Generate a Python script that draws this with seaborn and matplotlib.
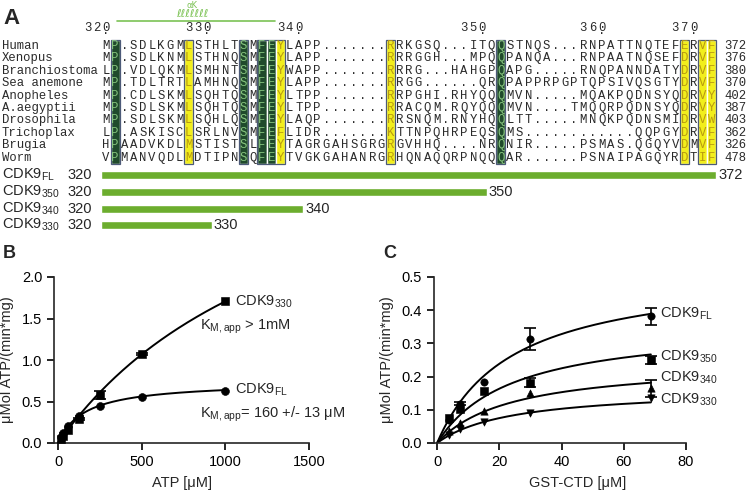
import numpy as np
import matplotlib
matplotlib.use('Agg')
import matplotlib.pyplot as plt
import seaborn as sns
from matplotlib.patches import Rectangle

# ---- panel A: alignment ----
names = ['Human', 'Xenopus', 'Branchiostoma', 'Sea anemone', 'Anopheles',
         'A.aegyptii', 'Drosophila', 'Trichoplax', 'Brugia', 'Worm']
seqs = [
    'MP.SDLKGMLSTHLTSMFEYLAPP.......RRKGSQ...ITQQSTNQS...RNPATTNQTEFERVF',
    'MP.SDLKNMLSTHNQSMFEYLAPP.......RRRGGH...MPQQPANQA...RNPAATNQSEFDRVF',
    'LP.VDLQKMLSMHNTSMFEYWAPP.......RRRG...HAHGPQAPG.....RNQPANNDATYDRVF',
    'MP.TDLTRTLAMHNQSMFEYLAPP.......RRGG......QRQPAPPRPGPTQPSIVQSGTYDRVF',
    'MP.CDLSKMLSQHTQSMFEYLTPP.......RRPGHI.RHYQQQMVN.....MQAKPQDNSYQDRVY',
    'MP.SDLSKMLSQHTQSMFEYLTPP.......RRACQM.RQYQQQMVN....TMQQRPQDNSYQDRVY',
    'MP.SDLSKMLSQHLQSMFEYLAQP.......RRSNQM.RNYHQQLTT.....MNQKPQDNSMIDRVW',
    'LP.ASKISCLSRLNVSMFEFLIDR.......KTTNPQHRPEQSQMS............QQPGYDRVF',
    'HPAADVKDLMSTISTSLFEYTAGRGAHSGRGRGVHHQ....NRQNIR.....PSMAS.QGQYVDMVF',
    'VPMANVQDLMDTIPNSQFEYTVGKGAHANRGRHQNAQQRPNQQQAR......PSNAIPAGQYRDTIF',
]
seq_ends = [372, 376, 380, 370, 402, 387, 403, 362, 326, 478]
dark_cols = [1, 15, 17, 18, 43]
yellow_cols = [9, 19, 31, 63, 65, 66]
box_groups = [(1, 1), (9, 9), (15, 15), (17, 19), (31, 31), (43, 43), (63, 63), (65, 66)]
ruler_marks = [320, 330, 340, 350, 360, 370]
human_start = 320
helix_name = '\u03b1K'

construct_names = ['FL', '350', '340', '330']
construct_start = 320
construct_ends = [372, 350, 340, 330]

# ---- panel B: ATP titration ----
atp = [15.6, 31.25, 62.5, 125, 250, 500, 1000]
rate_fl_b = [0.07, 0.12, 0.20, 0.32, 0.45, 0.56, 0.63]
rate_330_b = [0.05, 0.09, 0.16, 0.29, 0.58, 1.07, 1.71]
err_330_b = [0, 0, 0, 0.01, 0.05, 0.015, 0]
vmax_b = [0.74, 4.25]     # FL, 330
km_b = [160, 1490]

# ---- panel C: GST-CTD titration ----
ctd = [3.75, 7.5, 15, 30, 68.7]
rate_fl_c = [0.07, 0.118, 0.185, 0.312, 0.382]
err_fl_c = [0, 0.005, 0, 0.033, 0.026]
rate_350_c = [0.075, 0.102, 0.158, 0.182, 0.25]
err_350_c = [0, 0, 0, 0.014, 0.012]
rate_340_c = [0.035, 0.06, 0.095, 0.15, 0.165]
err_340_c = [0, 0, 0, 0, 0.025]
rate_330_c = [0.025, 0.042, 0.062, 0.09, 0.135]
vmax_c = [0.525, 0.36, 0.245, 0.165]
km_c = [24, 24, 24, 24]

sns.set_style('ticks')
plt.rcParams['font.family'] = ['Liberation Sans', 'DejaVu Sans']
plt.rcParams['mathtext.fontset'] = 'custom'
plt.rcParams['mathtext.rm'] = 'Liberation Sans'
plt.rcParams['mathtext.default'] = 'regular'
plt.rcParams['axes.linewidth'] = 1.2
for a in ('xtick', 'ytick'):
    plt.rcParams[a + '.major.size'] = 5
    plt.rcParams[a + '.major.width'] = 1.2
    plt.rcParams[a + '.labelsize'] = 10.5
    plt.rcParams[a + '.color'] = 'black'

W, H = 747, 492
fig = plt.figure(figsize=(W / 100, H / 100), dpi=100)

# alignment axes: x in columns, y in pixels
ax = fig.add_axes([0, 1 - 265 / H, 1, 265 / H])
x0, step = 106, 9.18
def pxcol(px):
    return (px - x0) / step
ax.set_xlim(pxcol(0), pxcol(W))
ax.set_ylim(265, 0)
ax.axis('off')

mono = dict(family='Liberation Mono', fontsize=8.8, va='center')
row_y = [46 + 12.4 * i for i in range(len(seqs))]
top, bot = row_y[0] - 6.2, row_y[-1] + 6.2

ax.bar(dark_cols, bot - top, bottom=top, width=1, color='#1f4a2b', zorder=1)
ax.bar(yellow_cols, bot - top, bottom=top, width=1, color='#f2ee1c', zorder=1)
for g0, g1 in box_groups:
    ax.add_patch(Rectangle((g0 - 0.5, top), g1 - g0 + 1, bot - top, fill=False,
                           ec='#4c5a78', lw=0.9, zorder=2))

for y, name, s, end in zip(row_y, names, seqs, seq_ends):
    ax.text(pxcol(2), y, name, ha='left', color='#2a2a2a', **mono)
    for i, c in enumerate(s):
        if i in dark_cols:
            col = '#86c47e'
        elif i in yellow_cols:
            col = '#b89a10'
        else:
            col = '#2a2a2a'
        ax.text(i, y, c, ha='center', color=col, zorder=3, **mono)
    ax.text(pxcol(724), y, str(end), ha='left', color='#2a2a2a', **mono)

def residue_col(res):
    n = human_start - 1
    for i, c in enumerate(seqs[0]):
        if c != '.':
            n += 1
            if n == res:
                return i

for m in ruler_marks:
    c = residue_col(m)
    digits = str(m)
    for k, d in enumerate(digits):
        ax.text(c - (len(digits) - 1 - k), 28, d, ha='center', color='#2a2a2a', **mono)
    ax.text(c, 31, '.', ha='center', color='#2a2a2a', **mono)

# helix
ax.plot([pxcol(117), pxcol(275)], [21, 21], color='#7cc255', lw=1.2)
ax.text(pxcol(192), 14, '\u2113' * 7, ha='center', va='center', color='#7cc255',
        fontsize=8, family='DejaVu Sans')
ax.text(pxcol(192), 5, helix_name, ha='center', va='center', color='#7cc255',
        fontsize=6, family='DejaVu Sans')

# constructs
bar_y = [175, 192, 209, 225]
left = residue_col(construct_start) - 0.5
widths = [residue_col(e) + 0.5 - left for e in construct_ends]
ax.barh(bar_y, widths, left=left, height=8, color='#6cad2e')
for y, nm, e, w in zip(bar_y, construct_names, construct_ends, widths):
    ax.text(pxcol(2), y, 'CDK9$_{' + nm + '}$', ha='left', va='center', fontsize=10.5)
    ax.text(pxcol(92), y, str(construct_start), ha='right', va='center', fontsize=10.5)
    ax.text(left + w + 0.2, y, str(e), ha='left', va='center', fontsize=10.5)

fig.text(3 / W, 1 - 18 / H, 'A', fontsize=16, fontweight='bold', va='center')
fig.text(3 / W, 1 - 253 / H, 'B', fontsize=13, fontweight='bold', va='center')
fig.text(383 / W, 1 - 253 / H, 'C', fontsize=13, fontweight='bold', va='center')

def mm(vmax, km, xmax):
    xs = np.linspace(0, xmax, 200)
    return xs, vmax * xs / (km + xs)

def err_bars(axis, xv, yv, ev):
    keep = [i for i, e in enumerate(ev) if e > 0]
    axis.errorbar([xv[i] for i in keep], [yv[i] for i in keep],
                  yerr=[ev[i] for i in keep], fmt='none', ecolor='black',
                  elinewidth=1.2, capsize=4, capthick=1.2)

ylab = '\u03bcMol ATP/(min*mg)'

# ---- B ----
axb = fig.add_axes([54 / W, (H - 443) / H, 255 / W, 166 / H])
for vm, km in zip(vmax_b, km_b):
    xs, ys = mm(vm, km, max(atp))
    sns.lineplot(x=xs, y=ys, ax=axb, color='black', lw=1.4)
err_bars(axb, atp, rate_330_b, err_330_b)
sns.scatterplot(x=atp, y=rate_330_b, ax=axb, marker='s', color='black', s=28,
                edgecolor='black', zorder=5)
sns.scatterplot(x=atp, y=rate_fl_b, ax=axb, marker='o', color='black', s=32,
                edgecolor='black', zorder=5)
axb.set_xlim(-24, 1500)
axb.set_ylim(0, 2.0)
axb.set_xticks([0, 500, 1000, 1500])
axb.set_yticks([0, 0.5, 1.0, 1.5, 2.0])
axb.set_yticklabels(['0.0', '0.5', '1.0', '1.5', '2.0'])
axb.set_xlabel('ATP [\u03bcM]', fontsize=10.5)
axb.set_ylabel(ylab, fontsize=10.5)
axb.xaxis.set_label_coords(0.5, -0.2)
axb.yaxis.set_label_coords(-0.155, 0.5)
sns.despine(ax=axb)
axb.text(1058, 1.70, 'CDK9$_{330}$', fontsize=10.5, va='center')
axb.text(849, 1.40, 'K$_{M,app}$ > 1mM', fontsize=10.5, va='center')
axb.text(1058, 0.64, 'CDK9$_{FL}$', fontsize=10.5, va='center')
axb.text(849, 0.34, 'K$_{M,app}$= 160 +/- 13 \u03bcM', fontsize=10.5, va='center')

# ---- C ----
axc = fig.add_axes([434 / W, (H - 443) / H, 252 / W, 166 / H])
for vm, km in zip(vmax_c, km_c):
    xs, ys = mm(vm, km, max(ctd))
    sns.lineplot(x=xs, y=ys, ax=axc, color='black', lw=1.4)
for r, e in ((rate_fl_c, err_fl_c), (rate_350_c, err_350_c), (rate_340_c, err_340_c)):
    err_bars(axc, ctd, r, e)
for r, mk in ((rate_fl_c, 'o'), (rate_350_c, 's'), (rate_340_c, '^'), (rate_330_c, 'v')):
    sns.scatterplot(x=ctd, y=r, ax=axc, marker=mk, color='black', s=28,
                    edgecolor='black', zorder=5)
axc.set_xlim(-1, 80)
axc.set_ylim(0, 0.5)
axc.set_xticks([0, 20, 40, 60, 80])
axc.set_yticks([0, 0.1, 0.2, 0.3, 0.4, 0.5])
axc.set_yticklabels(['0.0', '0.1', '0.2', '0.3', '0.4', '0.5'])
axc.set_xlabel('GST-CTD [\u03bcM]', fontsize=10.5)
axc.set_ylabel(ylab, fontsize=10.5)
axc.xaxis.set_label_coords(0.57, -0.2)
axc.yaxis.set_label_coords(-0.157, 0.5)
sns.despine(ax=axc)
for nm, y in zip(construct_names, [0.39, 0.26, 0.196, 0.13]):
    axc.text(71.7, y, 'CDK9$_{' + nm + '}$', fontsize=10.5, va='center')

fig.savefig('out.png', dpi=100)
